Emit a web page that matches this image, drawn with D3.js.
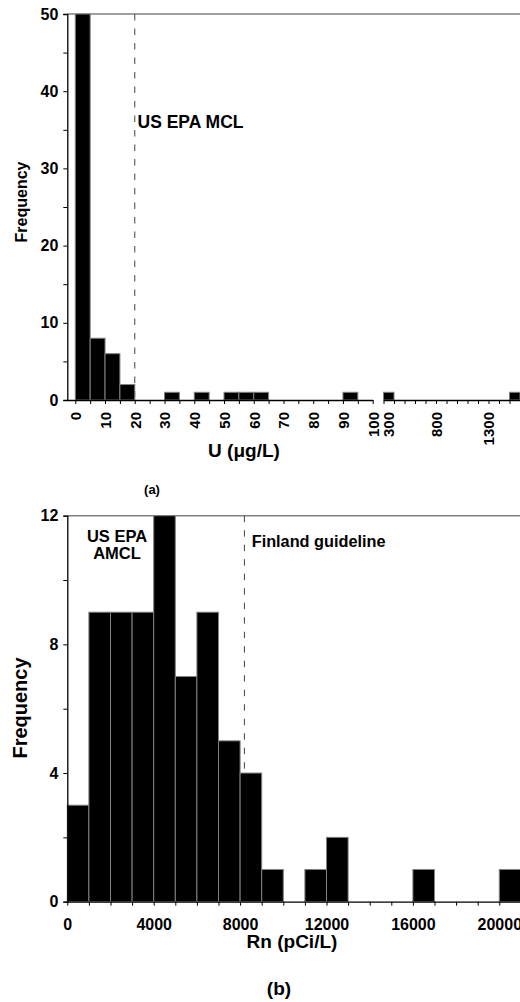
<!DOCTYPE html>
<meta charset="utf-8">
<script src="https://d3js.org/d3.v7.min.js"></script>
<style>
  body { margin: 0; background: #fff; }
  text { font-family: "Liberation Sans", Arial, sans-serif; font-weight: bold; fill: #000; }
</style>
<div id="chart"></div>
<script>

// panel (a): uranium histogram, broken x axis
var uLowStart = [0, 5, 10, 15, 30, 40, 50, 55, 60, 90];
var uLowCount = [50, 8, 6, 2, 1, 1, 1, 1, 1, 1];
var uHighStart = [300, 1500];
var uHighCount = [1, 1];
var uLowTicks = [0, 10, 20, 30, 40, 50, 60, 70, 80, 90, 100];
var uHighTicks = [300, 800, 1300];
var freqTicksA = [0, 10, 20, 30, 40, 50];
var uLimit = 20;

// panel (b): radon histogram, bins of 1000 pCi/L
var rnStart = [0, 1000, 2000, 3000, 4000, 5000, 6000, 7000, 8000, 9000, 10000,
               11000, 12000, 13000, 14000, 15000, 16000, 17000, 18000, 19000, 20000];
var rnCount = [3, 9, 9, 9, 12, 7, 9, 5, 4, 1, 0, 1, 2, 0, 0, 0, 1, 0, 0, 0, 1];
var rnTicks = [0, 4000, 8000, 12000, 16000, 20000];
var freqTicksB = [0, 4, 8, 12];
var rnLimit = 8200;

var W = 520, H = 1002;
var svg = d3.select("#chart").append("svg")
  .attr("width", W).attr("height", H);

function styleAxis(g) {
  g.select(".domain").attr("stroke", "#000").attr("stroke-width", 1.3);
  g.selectAll(".tick line").attr("stroke", "#000").attr("stroke-width", 1);
  g.selectAll("text").attr("font-family", null).attr("font-size", null);
}

// ---------- panel (a) ----------
var a = svg.append("g");
var yA = d3.scaleLinear().domain([0, 50]).range([400, 14]);
var xA1 = d3.scaleLinear().domain([0, 100]).range([75.3, 372.7]);
var xA2 = d3.scaleLinear().domain([300, 1600]).range([383.5, 520]);

// top frame line
a.append("line").attr("x1", 67.3).attr("x2", W).attr("y1", 14).attr("y2", 14)
  .attr("stroke", "#808080").attr("stroke-width", 1.5);

// limit line
a.append("line").attr("x1", xA1(uLimit)).attr("x2", xA1(uLimit))
  .attr("y1", 14).attr("y2", 400)
  .attr("stroke", "#444").attr("stroke-dasharray", "6.5,8");

a.append("g").selectAll("rect").data(uLowStart).enter().append("rect")
  .attr("x", function (d) { return xA1(d); })
  .attr("width", function (d) { return xA1(d + 5) - xA1(d); })
  .attr("y", function (d, i) { return yA(uLowCount[i]); })
  .attr("height", function (d, i) { return 400 - yA(uLowCount[i]); })
  .attr("fill", "#000").attr("stroke", "#808080").attr("stroke-width", 1);

a.append("g").selectAll("rect").data(uHighStart).enter().append("rect")
  .attr("x", function (d) { return xA2(d); })
  .attr("width", function (d) { return xA2(d + 100) - xA2(d); })
  .attr("y", function (d, i) { return yA(uHighCount[i]); })
  .attr("height", function (d, i) { return 400 - yA(uHighCount[i]); })
  .attr("fill", "#000").attr("stroke", "#808080").attr("stroke-width", 1);

// y axis
var yAxA = a.append("g").attr("transform", "translate(67.3,0)")
  .call(d3.axisLeft(yA).tickValues(d3.range(0, 51, 5)).tickSize(4).tickPadding(5)
    .tickFormat(function (d) { return freqTicksA.indexOf(d) >= 0 ? d : ""; }));
styleAxis(yAxA);
yAxA.selectAll("text").attr("font-size", 16);

// x axis, left part (starts at the y axis)
var xAxA1 = a.append("g").attr("transform", "translate(0,400)")
  .call(d3.axisBottom(xA1.copy().domain([xA1.invert(67.3), 100]).range([67.3, 372.7]))
    .tickValues(d3.range(0, 101, 5)).tickSize(4).tickSizeOuter(0)
    .tickFormat(function (d) { return uLowTicks.indexOf(d) >= 0 ? d : ""; }));
styleAxis(xAxA1);

// x axis, right part after the break
var xAxA2 = a.append("g").attr("transform", "translate(0,400)")
  .call(d3.axisBottom(xA2).tickValues(d3.range(300, 1601, 100)).tickSize(4).tickSizeOuter(0)
    .tickFormat(function (d) { return uHighTicks.indexOf(d) >= 0 ? d : ""; }));
styleAxis(xAxA2);

// rotated tick labels
[xAxA1, xAxA2].forEach(function (g) {
  g.selectAll("text")
    .attr("transform", "rotate(-90)")
    .attr("x", -12).attr("y", 0).attr("dy", "0.36em")
    .attr("text-anchor", "end").attr("font-size", 15);
});
// the 300 label sits a little right of its tick in the original
xAxA2.selectAll(".tick text").filter(function (d) { return d === 300; }).attr("y", 5);

a.append("text").attr("x", 137.5).attr("y", 127.5).attr("font-size", 17.5)
  .text("US EPA MCL");
a.append("text").attr("transform", "translate(27,202) rotate(-90)")
  .attr("text-anchor", "middle").attr("font-size", 16).text("Frequency");
a.append("text").attr("x", 244).attr("y", 457).attr("text-anchor", "middle")
  .attr("font-size", 19).text("U (\u03bcg/L)");
a.append("text").attr("x", 152).attr("y", 494).attr("text-anchor", "middle")
  .attr("font-size", 13).text("(a)");

// ---------- panel (b) ----------
var b = svg.append("g");
var yB = d3.scaleLinear().domain([0, 12]).range([901.7, 515.7]);
var xB = d3.scaleLinear().domain([0, 21000]).range([67.3, 520.9]);

b.append("line").attr("x1", 67.3).attr("x2", W).attr("y1", 515.7).attr("y2", 515.7)
  .attr("stroke", "#808080").attr("stroke-width", 1.5);

b.append("line").attr("x1", xB(rnLimit)).attr("x2", xB(rnLimit))
  .attr("y1", 515.7).attr("y2", 901.7)
  .attr("stroke", "#444").attr("stroke-dasharray", "6.5,8");

b.append("g").selectAll("rect").data(rnStart).enter().append("rect")
  .attr("x", function (d) { return xB(d); })
  .attr("width", function (d) { return xB(d + 1000) - xB(d); })
  .attr("y", function (d, i) { return yB(rnCount[i]); })
  .attr("height", function (d, i) { return 901.7 - yB(rnCount[i]); })
  .attr("fill", "#000").attr("stroke", "#808080").attr("stroke-width", 1)
  .style("display", function (d, i) { return rnCount[i] ? null : "none"; });

var yAxB = b.append("g").attr("transform", "translate(67.3,0)")
  .call(d3.axisLeft(yB).tickValues(d3.range(0, 13, 2)).tickSize(4).tickPadding(5)
    .tickFormat(function (d) { return freqTicksB.indexOf(d) >= 0 ? d : ""; }));
styleAxis(yAxB);
yAxB.selectAll("text").attr("font-size", 16);

var xAxB = b.append("g").attr("transform", "translate(0,901.7)")
  .call(d3.axisBottom(xB).tickValues(d3.range(0, 21001, 1000)).tickSize(4).tickSizeOuter(0)
    .tickPadding(13)
    .tickFormat(function (d) { return rnTicks.indexOf(d) >= 0 ? d : ""; }));
styleAxis(xAxB);
xAxB.selectAll("text").attr("font-size", 16);

b.append("text").attr("x", 117).attr("y", 541.7).attr("text-anchor", "middle")
  .attr("font-size", 16.5).text("US EPA");
b.append("text").attr("x", 117).attr("y", 559.3).attr("text-anchor", "middle")
  .attr("font-size", 16.5).text("AMCL");
b.append("text").attr("x", 251.7).attr("y", 546.7).attr("font-size", 16.3)
  .text("Finland guideline");
b.append("text").attr("transform", "translate(27,708) rotate(-90)")
  .attr("text-anchor", "middle").attr("font-size", 20).text("Frequency");
b.append("text").attr("x", 292).attr("y", 948).attr("text-anchor", "middle")
  .attr("font-size", 19).text("Rn (pCi/L)");
b.append("text").attr("x", 279).attr("y", 995).attr("text-anchor", "middle")
  .attr("font-size", 19).text("(b)");

</script>
